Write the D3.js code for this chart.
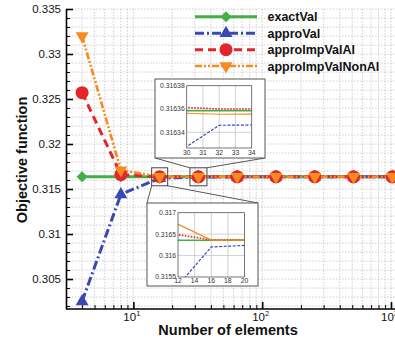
<!DOCTYPE html>
<html>
<head>
<meta charset="utf-8">
<script src="https://cdn.jsdelivr.net/npm/d3@7"></script>
<style>
  body { margin: 0; background: #fff; }
  svg { display: block; font-family: "Liberation Sans", Arial, Helvetica, sans-serif; }
</style>
</head>
<body>
<svg id="chart" width="395" height="340"></svg>
<script>
// Mesh sizes and objective function values per method
const nElements        = [4, 8, 16, 32, 64, 128, 256, 512, 1024];
const exactVal         = [0.3163585, 0.3163585, 0.3163585, 0.3163585, 0.3163585, 0.3163585, 0.3163585, 0.3163585, 0.3163585];
const approVal         = [0.3025, 0.3144, 0.3162, 0.316346, 0.31635, 0.316352, 0.316353, 0.316353, 0.316353];
const approImpValAl    = [0.3257, 0.3166, 0.31637, 0.31636, 0.31636, 0.31636, 0.31636, 0.31636, 0.31636];
const approImpValNonAl = [0.3320, 0.3171, 0.316362, 0.3163555, 0.316356, 0.316357, 0.316357, 0.316357, 0.316357];

// Axis ticks
const yTickValues = [0.305, 0.31, 0.315, 0.32, 0.325, 0.33, 0.335];
const yTickLabels = ["0.305", "0.31", "0.315", "0.32", "0.325", "0.33", "0.335"];
const xTickValues = [10, 100, 1000];
const xTickExponents = ["1", "2", "3"];

// Zoom windows
const zoomA_xTicks = [12, 14, 16, 18, 20];
const zoomA_yTicks = [0.3155, 0.316, 0.3165, 0.317];
const zoomA_yLabels = ["0.3155", "0.316", "0.3165", "0.317"];
const zoomB_xTicks = [30, 31, 32, 33, 34];
const zoomB_yTicks = [0.31634, 0.31636, 0.31638];
const zoomB_yLabels = ["0.31634", "0.31636", "0.31638"];

const svg = d3.select("#chart");

const x = d3.scaleLog().domain([3, 1000]).range([66, 391]);
const y = d3.scaleLinear().domain([0.30167, 0.335]).range([309, 9]);

const series = [
  { name: "exactVal",         values: exactVal,         color: "#43b047", dash: null,          width: 3,   marker: "diamond" },
  { name: "approVal",         values: approVal,         color: "#3a48b4", dash: "9,3,2,3",     width: 3,   marker: "triUp" },
  { name: "approImpValAl",    values: approImpValAl,    color: "#e3262b", dash: "8,5",         width: 3,   marker: "circle" },
  { name: "approImpValNonAl", values: approImpValNonAl, color: "#f68b1f", dash: "7,2,2,2,2,2", width: 2.6, marker: "triDown" }
];

function markerPath(kind) {
  if (kind === "diamond") return d3.symbol(d3.symbolSquare, 62)();
  if (kind === "circle") return d3.symbol(d3.symbolCircle, 135)();
  return d3.symbol(d3.symbolTriangle, 72)();
}
function markerRotate(kind) {
  if (kind === "diamond") return 45;
  if (kind === "triDown") return 180;
  return 0;
}

// ---- grid ----
const grid = svg.append("g").attr("stroke", "#c4c4c4").attr("stroke-width", 0.8).attr("stroke-dasharray", "1.5,1.5");
const xGrid = x.ticks().filter(t => t > 3);
grid.selectAll("line.gx").data(xGrid).join("line")
  .attr("x1", d => x(d)).attr("x2", d => x(d)).attr("y1", y.range()[1]).attr("y2", y.range()[0]);
const yGrid = d3.range(0.302, 0.3355, 0.001);
grid.selectAll("line.gy").data(yGrid).join("line")
  .attr("x1", x.range()[0]).attr("x2", 395).attr("y1", d => y(d)).attr("y2", d => y(d));

// ---- axes ----
const yMajor = svg.append("g").attr("transform", `translate(${x.range()[0]},0)`)
  .call(d3.axisLeft(y).tickValues(yTickValues).tickSize(-7).tickSizeOuter(0).tickPadding(5)
    .tickFormat((d, i) => yTickLabels[i]));
yMajor.select(".domain").attr("stroke", "#000").attr("stroke-width", 1.6);
yMajor.selectAll(".tick line").attr("stroke", "#000").attr("stroke-width", 1.6);
yMajor.selectAll(".tick text").attr("font-size", 11.5).attr("fill", "#111").attr("font-family", null);

const yMinor = svg.append("g").attr("transform", `translate(${x.range()[0]},0)`)
  .call(d3.axisLeft(y).tickValues(yGrid).tickSize(-4).tickFormat(""));
yMinor.select(".domain").remove();
yMinor.selectAll(".tick line").attr("stroke", "#000").attr("stroke-width", 1);

const xMajor = svg.append("g").attr("transform", `translate(0,${y.range()[0]})`)
  .call(d3.axisBottom(x).tickValues(xTickValues).tickSize(-7).tickSizeOuter(0).tickFormat(""));
xMajor.select(".domain").attr("stroke", "#000").attr("stroke-width", 1.6).attr("d", `M${x.range()[0]},0H395`);
xMajor.selectAll(".tick line").attr("stroke", "#000").attr("stroke-width", 1.6);
xMajor.selectAll(".tick").append("text")
  .attr("x", -2).attr("y", 12).attr("text-anchor", "middle").attr("fill", "#111")
  .each(function (d, i) {
    const t = d3.select(this);
    t.append("tspan").attr("font-size", 11.5).text("10");
    t.append("tspan").attr("font-size", 7.5).attr("dy", -5).text(xTickExponents[i]);
  });

const xMinor = svg.append("g").attr("transform", `translate(0,${y.range()[0]})`)
  .call(d3.axisBottom(x).tickValues(xGrid.filter(t => !xTickValues.includes(t))).tickSize(-4).tickFormat(""));
xMinor.select(".domain").remove();
xMinor.selectAll(".tick line").attr("stroke", "#000").attr("stroke-width", 1);

// axis titles
svg.append("text").attr("transform", "translate(27,160) rotate(-90)")
  .attr("text-anchor", "middle").attr("font-size", 14.5).attr("font-weight", "bold").attr("fill", "#111")
  .text("Objective function");
svg.append("text").attr("x", 228).attr("y", 335)
  .attr("text-anchor", "middle").attr("font-size", 14.5).attr("font-weight", "bold").attr("fill", "#111")
  .text("Number of elements");

// ---- series ----
const line = d3.line().x(d => x(d.n)).y(d => y(d.v));
series.forEach(s => {
  const pts = nElements.map((n, i) => ({ n, v: s.values[i] }));
  svg.append("path").datum(pts)
    .attr("fill", "none").attr("stroke", s.color).attr("stroke-width", s.width)
    .attr("stroke-dasharray", s.dash).attr("d", line);
});
series.forEach(s => {
  const pts = nElements.map((n, i) => ({ n, v: s.values[i] }));
  svg.append("g").selectAll("path").data(pts).join("path")
    .attr("d", markerPath(s.marker))
    .attr("transform", d => `translate(${x(d.n)},${y(d.v)}) rotate(${markerRotate(s.marker)})`)
    .attr("fill", s.color);
});

// ---- zoom insets ----
function drawInset(cfg) {
  const g = svg.append("g");
  // marker rectangle around the zoomed region
  const cx = x(cfg.center), cy = y(exactVal[0]);
  const r = { x0: cx - cfg.rw / 2, x1: cx + cfg.rw / 2, y0: cy - 9, y1: cy + 9 };
  g.append("rect").attr("x", r.x0).attr("y", r.y0).attr("width", r.x1 - r.x0).attr("height", r.y1 - r.y0)
    .attr("fill", "none").attr("stroke", "#444").attr("stroke-width", 1);
  const b = cfg.box;
  const links = cfg.above
    ? [[r.x0, r.y0, b.x0, b.y1], [r.x1, r.y0, b.x1, b.y1]]
    : [[r.x0, r.y1, b.x0, b.y0], [r.x1, r.y1, b.x1, b.y0]];
  g.selectAll("line.link").data(links).join("line")
    .attr("x1", d => d[0]).attr("y1", d => d[1]).attr("x2", d => d[2]).attr("y2", d => d[3])
    .attr("stroke", "#444").attr("stroke-width", 0.9);
  g.append("rect").attr("x", b.x0).attr("y", b.y0).attr("width", b.x1 - b.x0).attr("height", b.y1 - b.y0)
    .attr("fill", "#fff").attr("stroke", "#555").attr("stroke-width", 1);

  const ix = d3.scaleLinear().domain(cfg.xDomain).range(cfg.xRange);
  const iy = d3.scaleLinear().domain(cfg.yDomain).range(cfg.yRange);
  const clipId = "clip-" + cfg.id;
  g.append("clipPath").attr("id", clipId).append("rect")
    .attr("x", cfg.xRange[0]).attr("y", cfg.yRange[1])
    .attr("width", cfg.xRange[1] - cfg.xRange[0]).attr("height", cfg.yRange[0] - cfg.yRange[1]);

  // inset grid
  const ig = g.append("g").attr("stroke", "#bdbdbd").attr("stroke-width", 0.7);
  ig.selectAll("line.vx").data(cfg.xTicks.slice(1, -1)).join("line")
    .attr("x1", d => ix(d)).attr("x2", d => ix(d)).attr("y1", cfg.yRange[1]).attr("y2", cfg.yRange[0]);
  ig.selectAll("line.hy").data(cfg.yTicks.filter(t => iy(t) > cfg.yRange[1] + 1 && iy(t) < cfg.yRange[0] - 1)).join("line")
    .attr("x1", cfg.xRange[0]).attr("x2", cfg.xRange[1]).attr("y1", d => iy(d)).attr("y2", d => iy(d));

  // inset series
  const iline = d3.line().x(d => ix(d.n)).y(d => iy(d.v));
  const styles = [
    { dash: null, w: 1.6 }, { dash: "3,1.5", w: 1.2 }, { dash: "1.6,1.4", w: 1.6 }, { dash: null, w: 1.2 }
  ];
  const plot = g.append("g").attr("clip-path", `url(#${clipId})`);
  series.forEach((s, k) => {
    const pts = nElements.map((n, i) => ({ n, v: s.values[i] }));
    plot.append("path").datum(pts).attr("fill", "none").attr("stroke", s.color)
      .attr("stroke-width", styles[k].w).attr("stroke-dasharray", styles[k].dash).attr("d", iline);
  });

  g.append("rect").attr("x", cfg.xRange[0]).attr("y", cfg.yRange[1])
    .attr("width", cfg.xRange[1] - cfg.xRange[0]).attr("height", cfg.yRange[0] - cfg.yRange[1])
    .attr("fill", "none").attr("stroke", "#555").attr("stroke-width", 0.8);

  // inset tick labels
  g.selectAll("text.ty").data(cfg.yTicks).join("text")
    .attr("x", cfg.xRange[0] - 2).attr("y", d => iy(d) + 2.4).attr("text-anchor", "end")
    .attr("font-size", 6.8).attr("fill", "#333").text((d, i) => cfg.yLabels[i]);
  g.selectAll("text.tx").data(cfg.xTicks).join("text")
    .attr("x", d => ix(d)).attr("y", cfg.yRange[0] + cfg.xLabelDy).attr("text-anchor", "middle")
    .attr("font-size", 6.8).attr("fill", "#333").text(d => d);
}

drawInset({
  id: "a", center: 16, rw: 16, above: false,
  box: { x0: 147, x1: 258, y0: 203, y1: 286 },
  xDomain: [12, 20], xRange: [178, 244.5],
  yDomain: [0.3155, 0.317], yRange: [277, 212.7],
  xTicks: zoomA_xTicks, yTicks: zoomA_yTicks, yLabels: zoomA_yLabels, xLabelDy: 6
});
drawInset({
  id: "b", center: 32, rw: 17, above: true,
  box: { x0: 155, x1: 265, y0: 79, y1: 158 },
  xDomain: [30, 34], xRange: [186.7, 251.7],
  yDomain: [0.3163265, 0.31638], yRange: [148, 85.7],
  xTicks: zoomB_xTicks, yTicks: zoomB_yTicks, yLabels: zoomB_yLabels, xLabelDy: 7
});

// ---- legend ----
const legend = svg.append("g");
const rowY = [16.7, 33.2, 49.7, 66];
series.forEach((s, i) => {
  const row = legend.append("g").attr("transform", `translate(0,${rowY[i]})`);
  row.append("line").attr("x1", 195).attr("x2", 257).attr("y1", 0).attr("y2", 0)
    .attr("stroke", s.color).attr("stroke-width", s.width).attr("stroke-dasharray", s.dash);
  row.append("path").attr("d", markerPath(s.marker))
    .attr("transform", `translate(226,0) rotate(${markerRotate(s.marker)})`).attr("fill", s.color);
  row.append("text").attr("x", 267.5).attr("y", 4.6).attr("font-size", 12.5).attr("font-weight", "bold")
    .attr("fill", "#111").text(s.name);
});
</script>
</body>
</html>
